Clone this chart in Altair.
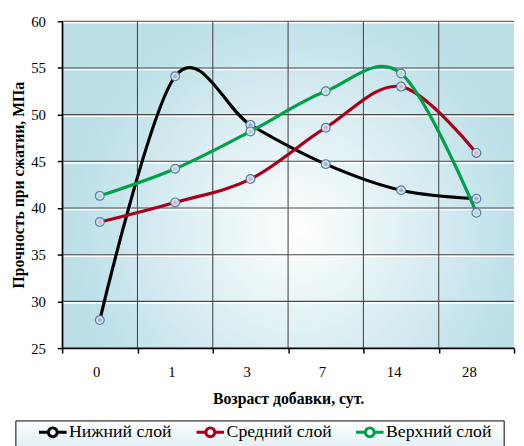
import altair as alt
import pandas as pd

days = ["0", "1", "3", "7", "14", "28"]
series_names = ["Нижний слой", "Средний слой", "Верхний слой"]
lower = [28.0, 54.1, 48.9, 44.7, 41.9, 41.0]
middle = [38.5, 40.6, 43.1, 48.6, 53.0, 45.9]
upper = [41.3, 44.2, 48.2, 52.5, 54.4, 39.5]
line_colors = ["#000000", "#A8001A", "#00A04A"]
tint_colors = ["#9aa8b8", "#f0a0a8", "#a0e0b4"]
y_ticks = [25, 30, 35, 40, 45, 50, 55, 60]

rows = []
for name, vals, tint in zip(series_names, [lower, middle, upper], tint_colors):
    for d, v in zip(days, vals):
        rows.append({"day": d, "series": name, "value": v, "tint": tint})
df = pd.DataFrame(rows)
grid_y = pd.DataFrame({"value": y_ticks})
grid_x = pd.DataFrame({"day": days})
one = pd.DataFrame({"a": [0]})

W, H = 459, 332
SERIF = "Times New Roman, Liberation Serif, DejaVu Serif, serif"
xscale = alt.Scale(type="band", paddingInner=0, paddingOuter=0)
yscale = alt.Scale(domain=[25, 60], nice=False, zero=False)

bg = alt.Chart(one).mark_rect(
    fill=alt.RadialGradient(
        gradient="radial",
        stops=[alt.GradientStop(offset=0, color="#ffffff"),
               alt.GradientStop(offset=0.15, color="#f4fafb"),
               alt.GradientStop(offset=1, color="#bcdfe8")],
        x1=0.52, y1=0.6, x2=0.52, y2=0.6, r1=0, r2=0.5,
    )
).encode(x=alt.value(0), x2=alt.value(W), y=alt.value(0), y2=alt.value(H))

hl = alt.Chart(grid_y).mark_rule(color="white", strokeWidth=1.5, yOffset=1.6).encode(
    y=alt.Y("value:Q", scale=yscale)
)
gy = alt.Chart(grid_y).mark_rule(color="#4a4a4a", strokeWidth=1.1).encode(
    y=alt.Y("value:Q", scale=yscale)
)
gx = alt.Chart(grid_x).mark_rule(color="#4a4a4a", strokeWidth=1.1).encode(
    x=alt.X("day:N", sort=days, scale=xscale, bandPosition=0)
)

lines = alt.Chart(df).mark_line(interpolate="cardinal", strokeWidth=3.2).encode(
    x=alt.X("day:N", sort=days, scale=xscale,
            axis=alt.Axis(title="Возраст добавки, сут.", tickBand="extent", grid=False,
                          labelAngle=0, labelFont=SERIF, labelFontSize=15, labelColor="black",
                          labelPadding=19, titleFont=SERIF, titleFontSize=16,
                          titleFontWeight="bold", titleColor="black", titlePadding=11,
                          domainColor="black", domainWidth=1.5, tickColor="black",
                          tickWidth=1.5, tickSize=5, zindex=1)),
    y=alt.Y("value:Q", scale=yscale,
            axis=alt.Axis(title="Прочность при сжатии, МПа", values=y_ticks, grid=False,
                          labelFont=SERIF, labelFontSize=15, labelColor="black",
                          labelPadding=12, titleFont=SERIF, titleFontSize=16,
                          titleFontWeight="bold", titleColor="black", titlePadding=4,
                          domainColor="black", domainWidth=1.5, tickColor="black",
                          tickWidth=1.5, tickSize=5, zindex=1)),
    color=alt.Color("series:N", sort=series_names,
                    scale=alt.Scale(domain=series_names, range=line_colors),
                    legend=alt.Legend(
                        title=None, orient="none", legendX=-25, legendY=402,
                        direction="horizontal", columnPadding=18, padding=0,
                        symbolType="M-1,0H-0.32M0.32,0H1M-0.32,0A0.32,0.32 0 1 1 0.32,0A0.32,0.32 0 1 1 -0.32,0",
                        symbolSize=784, symbolStrokeWidth=3, labelOffset=1,
                        labelFont=SERIF, labelFontSize=18, labelColor="black")),
    detail="series:N",
)

pts = alt.Chart(df).mark_point(filled=True, size=80, fill="#cfe2ef", stroke="#5a7c9e",
                               strokeWidth=1.2, opacity=1).encode(
    x=alt.X("day:N", sort=days, scale=xscale),
    y=alt.Y("value:Q", scale=yscale),
)
tints = alt.Chart(df).mark_point(filled=True, size=16, opacity=0.85).encode(
    x=alt.X("day:N", sort=days, scale=xscale),
    y=alt.Y("value:Q", scale=yscale),
    fill=alt.Fill("tint:N", scale=None),
)

legend_box = alt.Chart(one).mark_rect(
    stroke="black", strokeWidth=1,
    fill=alt.LinearGradient(
        gradient="linear",
        stops=[alt.GradientStop(offset=0, color="#ffffff"),
               alt.GradientStop(offset=1, color="#cde6ee")],
        x1=0.5, y1=0, x2=0.4, y2=1,
    ),
).encode(x=alt.value(-47), x2=alt.value(449), y=alt.value(406), y2=alt.value(450))

chart = alt.layer(bg, hl, gy, gx, legend_box, lines, pts, tints).properties(
    width=W, height=H,
    autosize=alt.AutoSizeParams(type="none"),
    padding={"left": 55, "top": 10, "right": 2, "bottom": 96},
).configure_view(stroke=None).configure_axis(grid=False)

chart.save("out.html", embed_options={"renderer": "svg", "actions": False})
